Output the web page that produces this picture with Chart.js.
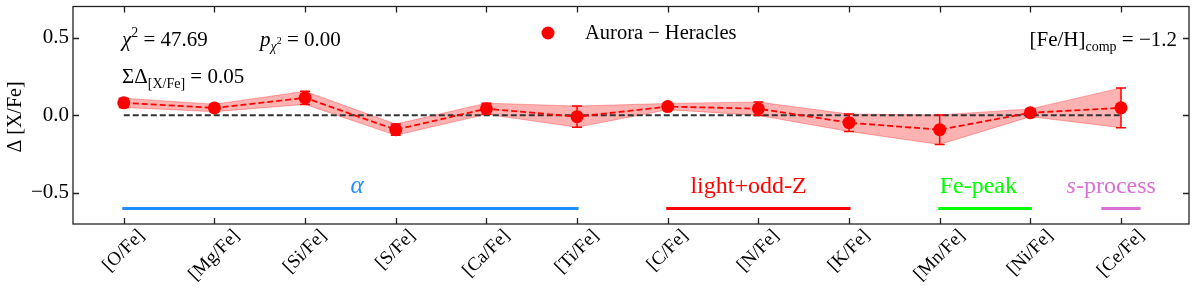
<!DOCTYPE html>
<html>
<head>
<meta charset="utf-8">
<script src="https://cdn.jsdelivr.net/npm/chart.js@4"></script>
<style>
  body { margin: 0; background: #fff; }
</style>
</head>
<body>
<canvas id="grafico" width="1196" height="294"></canvas>
<script>
// Datos
const elementos = ['[O/Fe]', '[Mg/Fe]', '[Si/Fe]', '[S/Fe]', '[Ca/Fe]', '[Ti/Fe]', '[C/Fe]', '[N/Fe]', '[K/Fe]', '[Mn/Fe]', '[Ni/Fe]', '[Ce/Fe]']
const deltaValores = [0.080, 0.047, 0.112, -0.093, 0.042, -0.009, 0.056, 0.042, -0.048, -0.093, 0.016, 0.048]
const errores = [0.030, 0.024, 0.042, 0.036, 0.036, 0.068, 0.020, 0.043, 0.056, 0.095, 0.025, 0.128]
const yTicks = [-0.5, 0.0, 0.5]

// grupos de elementos: nombre, desde, hasta (índice de elemento)
const grupos = ['α', 'light+odd-Z', 'Fe-peak', 's-process']
const gruposDesde = [0, 6, 9, 10.8]
const gruposHasta = [5, 8, 10, 11.2]
const gruposEtiquetaX = [2.5, 6.25, 9, 10.4]
const gruposColores = ['#1e90ff', '#ff0000', '#00ff00', '#da70d6']

const FUENTE = '"Liberation Serif", "Times New Roman", serif'
const fuente = (tam, estilo = 'normal') => `${estilo} ${tam}px ${FUENTE}`

// dibuja texto con sub/superíndices: [texto, tamaño, estilo, dy]
const dibujarTexto = (ctx, partes, x, y, align = 'left') => {
    let ancho = 0
    partes.forEach(p => { ctx.font = fuente(p[1], p[2]); ancho += ctx.measureText(p[0]).width })
    let cx = align === 'right' ? x - ancho : (align === 'center' ? x - ancho / 2 : x)
    ctx.textAlign = 'left'
    ctx.textBaseline = 'alphabetic'
    partes.forEach(p => {
        ctx.font = fuente(p[1], p[2])
        ctx.fillText(p[0], cx, y + p[3])
        cx += ctx.measureText(p[0]).width
    })
}

const puntos = deltaValores.map((v, i) => ({ x: i, y: v }))
const bandaSup = deltaValores.map((v, i) => ({ x: i, y: v + errores[i] }))
const bandaInf = deltaValores.map((v, i) => ({ x: i, y: v - errores[i] }))

const datasetsGrupos = grupos.map((g, k) => ({
    label: g,
    data: [{ x: gruposDesde[k], y: -0.6 }, { x: gruposHasta[k], y: -0.6 }],
    borderColor: gruposColores[k],
    borderWidth: 3,
    borderCapStyle: 'square',
    pointRadius: 0,
    order: 5
}))

// barras de error, marco, ticks hacia adentro y textos
const pluginExtras = {
    id: 'extras',
    afterDatasetsDraw(chart) {
        const { ctx } = chart
        const x = chart.scales.x
        const y = chart.scales.y
        ctx.save()
        ctx.strokeStyle = '#ff0000'
        ctx.lineWidth = 1.5
        deltaValores.forEach((v, i) => {
            const px = x.getPixelForValue(i)
            const y1 = y.getPixelForValue(v + errores[i])
            const y2 = y.getPixelForValue(v - errores[i])
            ctx.beginPath()
            ctx.moveTo(px, y1); ctx.lineTo(px, y2)
            ctx.moveTo(px - 5, y1); ctx.lineTo(px + 5, y1)
            ctx.moveTo(px - 5, y2); ctx.lineTo(px + 5, y2)
            ctx.stroke()
        })
        ctx.restore()
    },
    afterDraw(chart) {
        const { ctx, chartArea: a } = chart
        const x = chart.scales.x
        const y = chart.scales.y
        ctx.save()
        // marco
        ctx.strokeStyle = '#222'
        ctx.lineWidth = 1.3
        ctx.strokeRect(a.left, a.top, a.right - a.left, a.bottom - a.top)
        ctx.beginPath()
        elementos.forEach((e, i) => {
            const px = Math.round(x.getPixelForValue(i)) + 0.5
            ctx.moveTo(px, a.bottom); ctx.lineTo(px, a.bottom - 6)
            ctx.moveTo(px, a.top); ctx.lineTo(px, a.top + 6)
        })
        yTicks.forEach(t => {
            const py = Math.round(y.getPixelForValue(t)) + 0.5
            ctx.moveTo(a.left, py); ctx.lineTo(a.left + 6, py)
            ctx.moveTo(a.right, py); ctx.lineTo(a.right - 6, py)
        })
        ctx.stroke()

        ctx.fillStyle = '#000'
        // etiquetas eje x rotadas 45°
        ctx.font = fuente(19)
        elementos.forEach((e, i) => {
            const w = ctx.measureText(e).width
            const cy = a.bottom + 5 + (w + 11) / (2 * Math.SQRT2)
            ctx.save()
            ctx.translate(x.getPixelForValue(i), cy)
            ctx.rotate(-Math.PI / 4)
            ctx.textAlign = 'center'
            ctx.textBaseline = 'middle'
            ctx.fillText(e, 0, 0)
            ctx.restore()
        })

        // título eje y
        ctx.save()
        ctx.translate(16, 117)
        ctx.rotate(-Math.PI / 2)
        ctx.font = fuente(20)
        ctx.textAlign = 'center'
        ctx.textBaseline = 'middle'
        ctx.fillText('Δ [X/Fe]', 0, 0)
        ctx.restore()

        // anotaciones
        dibujarTexto(ctx, [['χ', 21, 'italic', 0], ['2', 14, 'normal', -9], [' = 47.69', 21, 'normal', 0]], 122, 46)
        dibujarTexto(ctx, [['p', 21, 'italic', 0], ['χ', 14, 'italic', 5], ['2', 10, 'normal', -2], [' = 0.00', 21, 'normal', 0]], 260, 46)
        dibujarTexto(ctx, [['ΣΔ', 21, 'normal', 0], ['[X/Fe]', 14, 'normal', 5], [' = 0.05', 21, 'normal', 0]], 122, 83)
        dibujarTexto(ctx, [['[Fe/H]', 21, 'normal', 0], ['comp', 14, 'normal', 5], [' = −1.2', 21, 'normal', 0]], 1177, 46, 'right')

        // leyenda
        ctx.fillStyle = '#ff0000'
        ctx.beginPath()
        ctx.arc(548, 33, 6.5, 0, Math.PI * 2)
        ctx.fill()
        ctx.fillStyle = '#000'
        dibujarTexto(ctx, [['Aurora − Heracles', 20.5, 'normal', 0]], 585, 39)

        // nombres de grupos
        grupos.forEach((g, k) => {
            ctx.fillStyle = gruposColores[k]
            const gx = x.getPixelForValue(gruposEtiquetaX[k])
            const gy = y.getPixelForValue(-0.5)
            let partes = [[g, 24, 'normal', 0]]
            if (g === 'α') partes = [[g, 25, 'italic', 0]]
            if (g === 's-process') partes = [['s', 24, 'italic', 0], ['-process', 24, 'normal', 0]]
            dibujarTexto(ctx, partes, gx, gy)
        })
        ctx.restore()
    }
}

new Chart(document.getElementById('grafico'), {
    type: 'line',
    data: {
        datasets: [
            {
                label: 'Aurora − Heracles',
                data: puntos,
                borderColor: '#ff0000',
                backgroundColor: '#ff0000',
                borderWidth: 1.8,
                borderDash: [6, 3],
                pointRadius: 6.5,
                pointBorderWidth: 0,
                order: 0
            },
            {
                label: 'cero',
                data: [{ x: 0, y: 0 }, { x: 11, y: 0 }],
                borderColor: '#333',
                borderWidth: 2,
                borderDash: [6, 3],
                pointRadius: 0,
                order: 1
            },
            {
                label: 'sup',
                data: bandaSup,
                borderColor: 'rgba(255,0,0,0.3)',
                backgroundColor: 'rgba(255,0,0,0.3)',
                borderWidth: 1,
                pointRadius: 0,
                fill: '+1',
                order: 2
            },
            {
                label: 'inf',
                data: bandaInf,
                borderColor: 'rgba(255,0,0,0.3)',
                borderWidth: 1,
                pointRadius: 0,
                fill: false,
                order: 3
            },
            ...datasetsGrupos
        ]
    },
    options: {
        responsive: false,
        animation: false,
        devicePixelRatio: 1,
        layout: { padding: { left: 0, top: 6, right: 7, bottom: 70 } },
        plugins: { legend: { display: false }, tooltip: { enabled: false } },
        scales: {
            x: {
                type: 'linear',
                min: -0.56,
                max: 11.75,
                display: false
            },
            y: {
                min: -0.7,
                max: 0.7,
                grid: { display: false, drawTicks: false },
                border: { display: false },
                afterFit: (scale) => {
                    scale.width = 73
                    scale.paddingTop = 0
                    scale.paddingBottom = 0
                },
                afterBuildTicks: (scale) => { scale.ticks = yTicks.map(v => ({ value: v })) },
                ticks: {
                    padding: 4,
                    color: '#000',
                    font: { family: FUENTE, size: 21 },
                    callback: (v) => v.toFixed(1).replace('-', '−')
                }
            }
        }
    },
    plugins: [pluginExtras]
})
</script>
</body>
</html>
